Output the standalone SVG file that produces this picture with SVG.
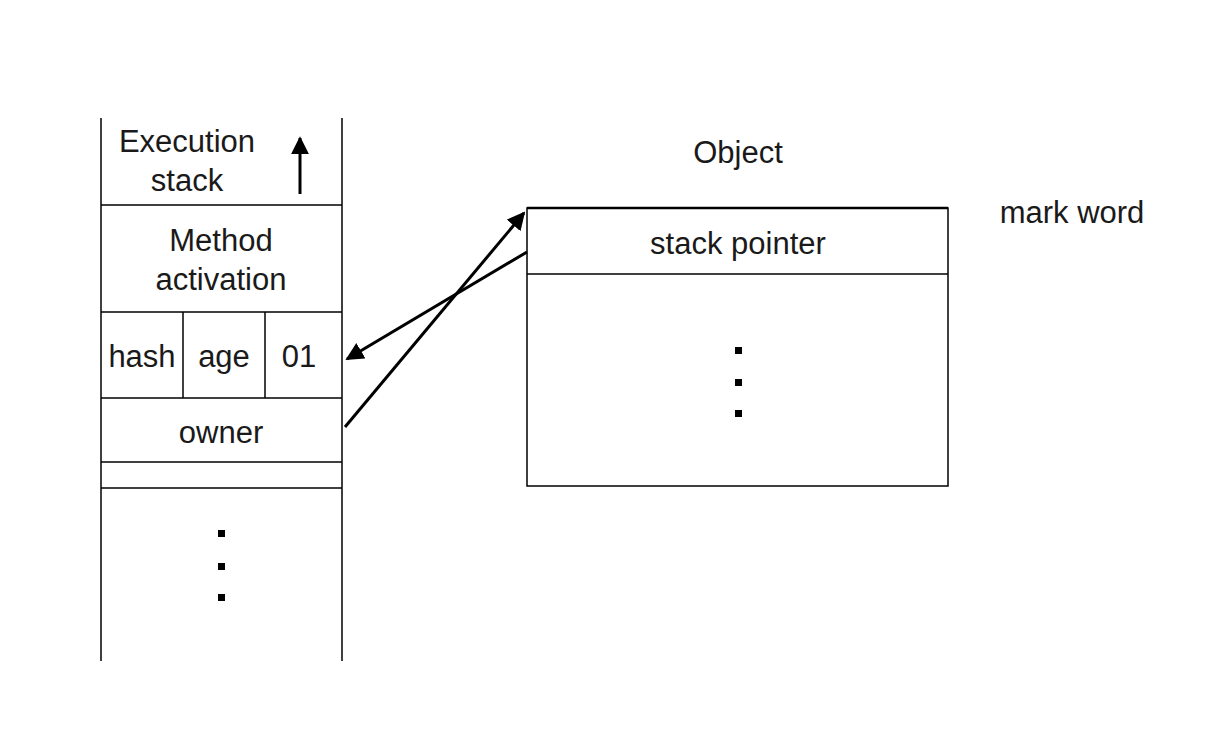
<svg xmlns="http://www.w3.org/2000/svg" width="1206" height="738" viewBox="0 0 1206 738">
<style>
text{font-family:"Liberation Sans",Arial,sans-serif;font-size:31px;fill:#1a1a1a;text-anchor:middle}
.b{stroke:#000;stroke-width:1.5;fill:none}
.a{stroke:#000;stroke-width:3;fill:none}
.d{fill:#000}
</style>
<defs>
<marker id="ah" viewBox="0 0 10 10" refX="9" refY="5" markerWidth="6" markerHeight="6" markerUnits="strokeWidth" orient="auto">
<path d="M0,0 L10,5 L0,10 z" fill="#000"/>
</marker>
</defs>
<rect width="1206" height="738" fill="#fff"/>
<g id="stack">
<line class="b" x1="101" y1="118" x2="101" y2="661"/>
<line class="b" x1="342" y1="118" x2="342" y2="661"/>
<line class="b" x1="101" y1="205" x2="342" y2="205"/>
<line class="b" x1="101" y1="312" x2="342" y2="312"/>
<line class="b" x1="101" y1="398" x2="342" y2="398"/>
<line class="b" x1="101" y1="462" x2="342" y2="462"/>
<line class="b" x1="101" y1="488" x2="342" y2="488"/>
<line class="b" x1="183" y1="312" x2="183" y2="398"/>
<line class="b" x1="265" y1="312" x2="265" y2="398"/>
</g>
<g id="exec">
<text x="187" y="152">Execution</text>
<text x="187" y="191">stack</text>
<line class="a" x1="300" y1="194" x2="300" y2="138" marker-end="url(#ah)"/>
</g>
<g id="method"><text x="221" y="251">Method</text><text x="221" y="290">activation</text></g>
<g id="hash"><text x="142" y="367">hash</text></g>
<g id="age"><text x="224" y="367">age</text></g>
<g id="bits"><text x="299" y="367">01</text></g>
<g id="owner"><text x="221" y="443">owner</text></g>
<g id="stackdots">
<rect class="d" x="218" y="530" width="7" height="7"/>
<rect class="d" x="218" y="563" width="7" height="7"/>
<rect class="d" x="218" y="594" width="7" height="7"/>
</g>
<g id="object">
<text x="738" y="163">Object</text>
<rect class="b" x="527" y="208" width="421" height="278"/>
<line x1="527" y1="208" x2="948" y2="208" stroke="#000" stroke-width="2.5"/>
<line class="b" x1="527" y1="274" x2="948" y2="274"/>
<text x="738" y="254">stack pointer</text>
<rect class="d" x="735" y="347" width="7" height="7"/>
<rect class="d" x="735" y="379" width="7" height="7"/>
<rect class="d" x="735" y="410" width="7" height="7"/>
</g>
<g id="markword"><text x="1072" y="223">mark word</text></g>
<g id="connectors">
<line class="a" x1="345" y1="427" x2="524" y2="213" marker-end="url(#ah)"/>
<line class="a" x1="527" y1="252" x2="347" y2="359" marker-end="url(#ah)"/>
</g>
</svg>
